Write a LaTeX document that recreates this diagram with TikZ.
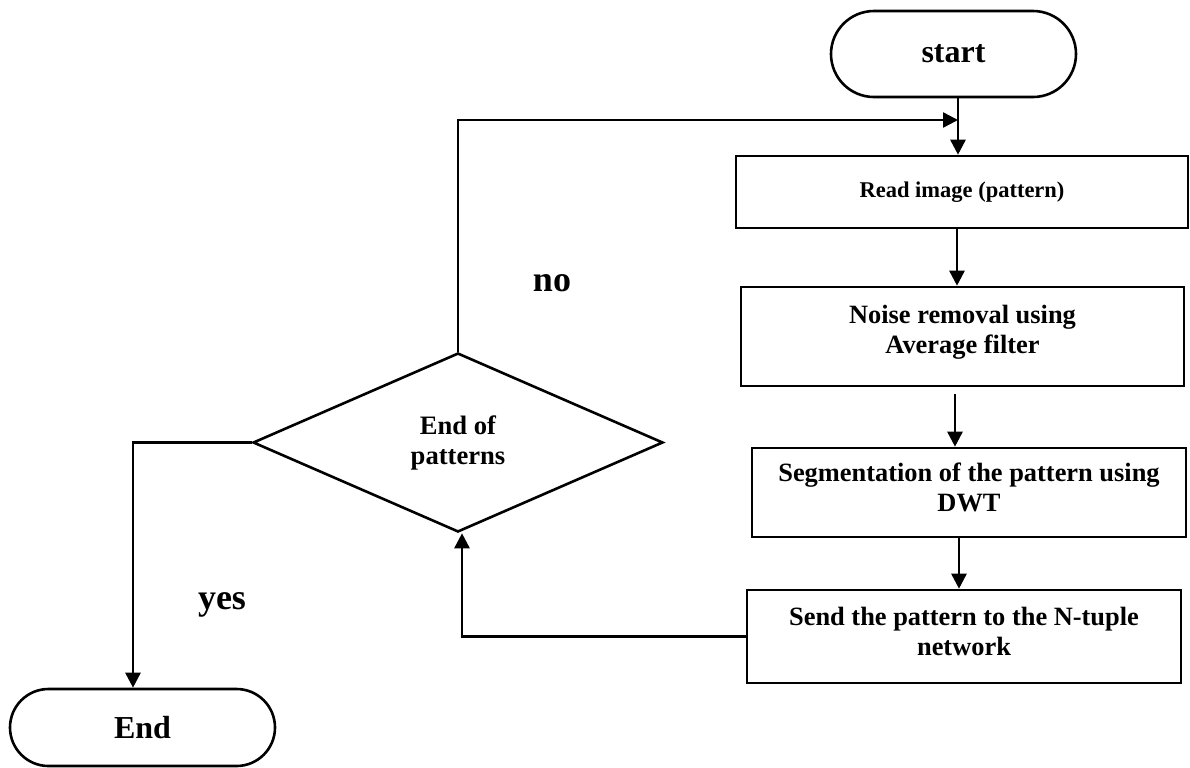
\documentclass[tikz,border=0pt]{standalone}
\usepackage{fontspec}
\setmainfont{Liberation Serif}
\usetikzlibrary{shapes.geometric,arrows.meta}
\begin{document}
\begin{tikzpicture}[x=0.5pt,y=-0.5pt,
  lw/.style={line width=1.3pt},
  arr/.style={lw,-{Triangle[width=7.5pt,length=7.5pt]}},
  term/.style={draw,lw,rounded corners=#1,inner sep=0pt,font=\bfseries\fontsize{16}{19}\selectfont},
  proc/.style={draw,lw,inner sep=0pt,align=center,font=\bfseries\fontsize{13.2}{15}\selectfont},
  decision/.style={draw,lw,diamond,aspect=2.29,inner sep=0pt,align=center,font=\bfseries\fontsize{13.3}{15}\selectfont},
  lbl/.style={font=\bfseries\fontsize{18}{21}\selectfont,inner sep=0pt,anchor=base}]
\useasboundingbox (0,0) rectangle (1190,767);

% nodes
\node[term=21.5pt,minimum width=122.5pt,minimum height=43pt] (start) at (953.5,54) {start};
\node[proc,minimum width=226pt,minimum height=36pt,font=\bfseries\fontsize{11.25}{13}\selectfont] (read) at (962,192) {Read image (pattern)};
\node[proc,minimum width=221.5pt,minimum height=49.5pt] (noise) at (962.5,336.5) {Noise removal using\\Average filter\rule[-7pt]{0pt}{1pt}};
\node[proc,minimum width=217pt,minimum height=44.5pt] (seg) at (969,492.5) {Segmentation of the pattern using\\DWT\rule[-5pt]{0pt}{1pt}};
\node[proc,minimum width=217pt,minimum height=46.5pt] (send) at (964,636.5) {Send the pattern to the N-tuple\\network\rule[-5pt]{0pt}{1pt}};
\node[decision,minimum width=205pt,minimum height=89.5pt] (dec) at (458,442.5) {End of\\patterns};
\node[term=19.25pt,minimum width=132.5pt,minimum height=38.5pt] (end) at (142.5,727.5) {End};

\node[lbl] (no) at (552,291) {no};
\node[lbl] (yes) at (222,609) {yes};

% helper coordinates
\coordinate (xa) at (958,0);
\coordinate (xb) at (957,0);
\coordinate (xc) at (955,0);
\coordinate (xd) at (959,0);
\coordinate (xe) at (462,0);
\coordinate (xf) at (133,0);
\coordinate (loopy) at (0,120);

% connectors
\draw[arr] (xa |- start.south) -- (xa |- read.north);
\draw[arr] (dec.north) -- (dec.north |- loopy) -- (xa |- loopy);
\draw[arr] (xb |- read.south) -- (xb |- noise.north);
\draw[arr,shorten <=3.5pt] (xc |- noise.south) -- (xc |- seg.north);
\draw[arr] (xd |- seg.south) -- (xd |- send.north);
\draw[arr] (send.west) -- (xe |- send.west) -- (xe |- dec.south);
\draw[arr] (dec.west) -- (xf |- dec.west) -- (xf |- end.north);
\end{tikzpicture}
\end{document}
